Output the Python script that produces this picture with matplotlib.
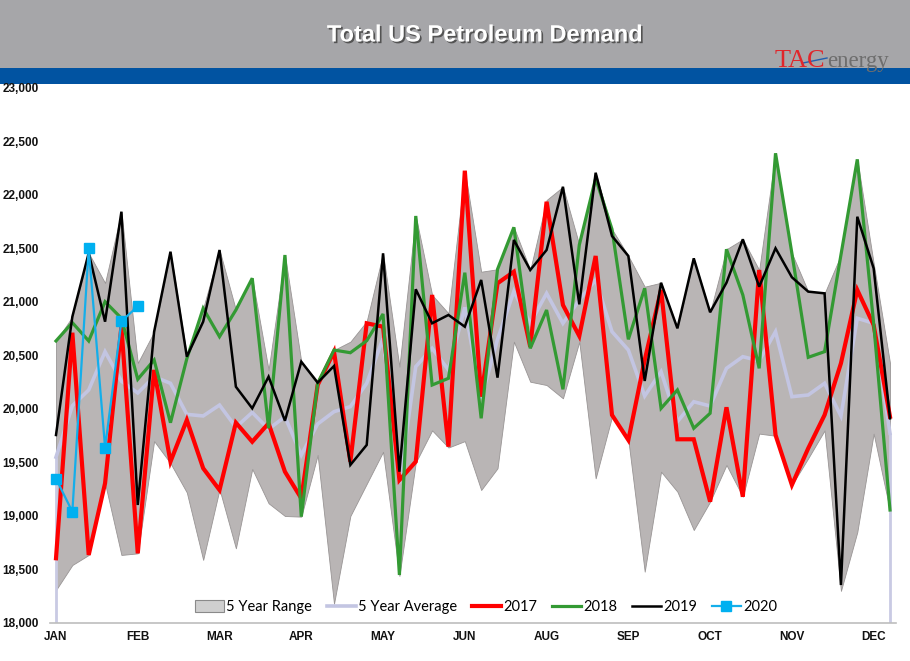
import matplotlib
matplotlib.use('Agg')
import matplotlib.pyplot as plt
import numpy as np
from matplotlib.patches import Rectangle, Patch
from matplotlib.lines import Line2D
import matplotlib.patheffects as pe

# ---------------- data ----------------
month_labels = ['JAN', 'FEB', 'MAR', 'APR', 'MAY', 'JUN', 'AUG', 'SEP', 'OCT', 'NOV', 'DEC']
y_ticks = [18000, 18500, 19000, 19500, 20000, 20500, 21000, 21500, 22000, 22500, 23000]

range_low = [18308, 18542, 18636, 19306, 18636, 18651, 19700, 19493, 19220, 18590,
             19250, 18698, 19440, 19119, 19000, 18994, 19570, 18180, 19000, 19300,
             19600, 18440, 19500, 19800, 19640, 19700, 19243, 19446, 20629, 20255,
             20224, 20100, 20629, 19352, 19928, 19710, 18480, 19414, 19227, 18869,
             19134, 19477, 19180, 19770, 19750, 19290, 19540, 19800, 18300, 18850,
             19770, 19050]
range_high = [20636, 20863, 21458, 21178, 21844, 20430, 20722, 21470, 20500, 20941,
              21486, 20925, 21222, 20365, 21439, 20442, 20260, 20551, 20629, 20820,
              21455, 20396, 21804, 21066, 20894, 22227, 21283, 21306, 21698, 21299,
              21953, 22077, 21533, 22208, 21680, 21430, 21143, 21180, 20754, 21408,
              20904, 21493, 21586, 21299, 22390, 21455, 21097, 21081, 21440, 22333,
              21362, 20430]
avg5 = [19550, 20030, 20178, 20536, 20260, 20150, 20302, 20240, 19950, 19935,
        20037, 19830, 19968, 19812, 19928, 19570, 19860, 19975, 20022, 20240,
        20661, 19306, 20396, 20567, 20365, 20950, 20100, 20650, 21100, 20801,
        21081, 20801, 21019, 21206, 20723, 20551, 20122, 20349, 19882, 20068,
        20028, 20380, 20489, 20451, 20723, 20115, 20131, 20240, 19935, 20848,
        20801, 19773]
y2017 = [18605, 20713, 18636, 19306, 20769, 18651, 20365, 19508, 19897, 19446,
         19243, 19872, 19694, 19866, 19414, 19165, 20224, 20536, 19508, 20801,
         20769, 19336, 19508, 21066, 19648, 22227, 20115, 21175, 21283, 20582,
         21937, 20972, 20682, 21430, 19944, 19710, 20458, 21112, 19717, 19717,
         19134, 20016, 19180, 21299, 19757, 19290, 19633, 19944, 20427, 21112,
         20785, 19928]
y2018 = [20636, 20807, 20636, 21003, 20848, 20278, 20458, 19872, 20470, 20941,
         20676, 20925, 21222, 19820, 21439, 18994, 20240, 20551, 20526, 20638,
         20888, 18449, 21804, 20224, 20287, 21274, 19913, 21306, 21698, 20567,
         20925, 20184, 21533, 22156, 21680, 20651, 21128, 20006, 20178, 19820,
         19960, 21493, 21066, 20380, 22390, 21455, 20483, 20536, 21440, 22333,
         20801, 19056]
y2019 = [19757, 20863, 21458, 20816, 21844, 19103, 20722, 21470, 20489, 20816,
         21486, 20208, 20006, 20302, 19890, 20442, 20246, 20402, 19477, 19664,
         21455, 19414, 21119, 20801, 20879, 20769, 21206, 20293, 21580, 21299,
         21486, 22077, 20978, 22208, 21617, 21430, 20262, 21180, 20754, 21408,
         20904, 21180, 21586, 21143, 21502, 21231, 21097, 21081, 18355, 21797,
         21315, 19913]
y2020 = [19350, 19040, 21500, 19640, 20820, 20960]

# ---------------- figure ----------------
W, H = 910, 661
fig = plt.figure(figsize=(W / 100, H / 100), dpi=100)
fig.patch.set_facecolor('white')

# header bands
fig.add_artist(Rectangle((0, 1 - 68 / H), 1, 68 / H, transform=fig.transFigure,
                         facecolor='#A6A6A9', edgecolor='none', zorder=0))
fig.add_artist(Rectangle((0, 1 - 84 / H), 1, 16 / H, transform=fig.transFigure,
                         facecolor='#0153A1', edgecolor='none', zorder=0))
fig.text(485 / W, 1 - 35 / H, 'Total US Petroleum Demand', ha='center', va='center',
         color='white', fontsize=17, fontweight='bold', family='Liberation Sans',
         path_effects=[pe.withSimplePatchShadow(offset=(1.2, -1.2),
                                                shadow_rgbFace='#4a4a4a', alpha=0.9)])
# logo
fig.text(775 / W, 1 - 67 / H, 'TAC', ha='left', va='baseline', color='#E0262B',
         fontsize=19, family='Liberation Serif')
fig.text(827 / W, 1 - 67 / H, 'energy', ha='left', va='baseline', color='#6E6E6E',
         fontsize=16.5, family='Liberation Serif')
fig.add_artist(Line2D([803 / W, 827 / W], [1 - 63 / H, 1 - 58 / H], transform=fig.transFigure,
                      color='#1F5FB0', linewidth=1.0))

# axes
x0, x1 = 50, 896
ax = fig.add_axes([x0 / W, 1 - 623 / H, (x1 - x0) / W, (623 - 88) / H])
x = np.arange(len(avg5))
step = (890 - 56) / 51
ax.set_xlim(-(56 - x0) / step, 51 + (x1 - 890) / step)
ax.set_ylim(18000, 23000)

range_color = '#B9B5B5'
ax.fill_between(x, range_low, range_high, facecolor=range_color,
                edgecolor='#999595', linewidth=0.6, zorder=1)
ax.vlines([x[0], x[-1]], 18000, [avg5[0], avg5[-1]], colors='#C9CAE3', linewidth=2, zorder=2)
ax.plot(x, avg5, color='#C3C5E2', linewidth=2.6, zorder=3, solid_joinstyle='miter')
ax.plot(x, y2017, color='#FF0000', linewidth=3.0, zorder=4, solid_joinstyle='miter')
ax.plot(x, y2018, color='#339A33', linewidth=2.3, zorder=5, solid_joinstyle='miter')
ax.plot(x, y2019, color='#000000', linewidth=1.8, zorder=6, solid_joinstyle='miter')
ax.plot(x[:len(y2020)], y2020, color='#14AEEA', linewidth=1.6, marker='s',
        markersize=7.5, markerfacecolor='#00B0F0', markeredgecolor='#00B0F0', zorder=7)

for s in ['top', 'right', 'left']:
    ax.spines[s].set_visible(False)
ax.spines['bottom'].set_color('#BDBDBD')
ax.spines['bottom'].set_linewidth(1.2)

ax.set_xticks(x[::5])
ax.set_xticklabels(month_labels)
ax.set_yticks(y_ticks)
ax.set_yticklabels([f'{v:,}' for v in y_ticks])
ax.tick_params(axis='both', length=0)
ax.tick_params(axis='x', pad=6)
ax.tick_params(axis='y', pad=8)
for lbl in ax.get_xticklabels() + ax.get_yticklabels():
    lbl.set_family('Liberation Sans')
    lbl.set_fontweight('bold')
    lbl.set_fontsize(8.5)
    lbl.set_color('#111111')

handles = [
    Patch(facecolor='#CFCFCF', edgecolor='#8A8A8A', linewidth=0.8),
    Line2D([], [], color='#C3C5E2', linewidth=2.6),
    Line2D([], [], color='#FF0000', linewidth=3.0),
    Line2D([], [], color='#339A33', linewidth=2.3),
    Line2D([], [], color='#000000', linewidth=1.8),
    Line2D([], [], color='#14AEEA', linewidth=1.6, marker='s', markersize=7.5,
           markerfacecolor='#00B0F0', markeredgecolor='#00B0F0'),
]
labels = ['5 Year Range', '5 Year Average', '2017', '2018', '2019', '2020']
leg = ax.legend(handles, labels, loc='center', bbox_to_anchor=(486 / W, 1 - 607 / H),
                bbox_transform=fig.transFigure, ncol=6, frameon=False,
                prop={'family': 'Lato', 'size': 10.5}, handlelength=2.0,
                handletextpad=0.15, columnspacing=1.0, handleheight=0.8)
leg.set_zorder(10)

fig.savefig('out.png', dpi=100)
